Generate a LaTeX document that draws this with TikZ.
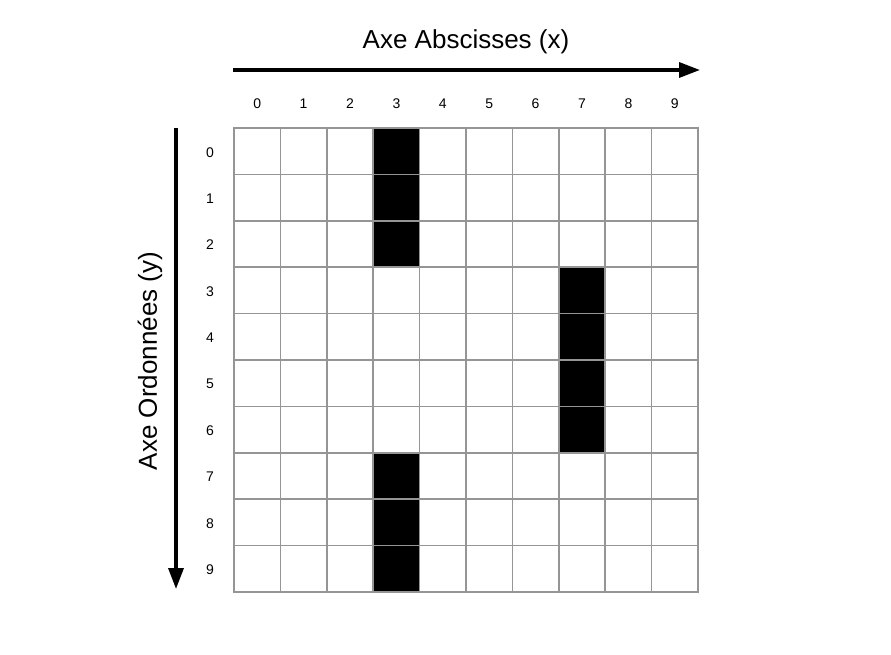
\documentclass[tikz,border=0pt]{standalone}
\usepackage{fontspec}
\setmainfont{Liberation Sans}
\usetikzlibrary{arrows.meta}
\definecolor{gridgray}{HTML}{959595}
\tikzset{
	cell/.style={draw=gridgray,line width=1.6pt,minimum size=46.4pt,inner sep=0pt,fill=white},
	full/.style={cell,fill=black},
	axe/.style={line width=3.4pt,-{Triangle[length=21pt,width=15pt]}},
	num/.style={font=\fontsize{14}{16}\selectfont},
	titre/.style={font=\fontsize{26}{30}\selectfont}
}
\begin{document}
\begin{tikzpicture}[x=1pt,y=-1pt]
	\useasboundingbox (0,0) rectangle (891,655);
	\node[titre] (tx) at (466,42) {Axe Abscisses (x)};
	\node[titre,rotate=90] (ty) at (150,361) {Axe Ordonnées (y)};
	\coordinate (x0) at (233,70);
	\coordinate (x1) at (700,70);
	\coordinate (y0) at (176,128);
	\coordinate (y1) at (176,589);
	\draw[axe] (x0) -- (x1);
	\draw[axe] (y0) -- (y1);
	\foreach \i in {0,...,9} {
		\node[num] (lx\i) at (257.2+46.4*\i,104) {\i};
		\node[num] (ly\i) at (210,152.2+46.4*\i) {\i};
	}
	\foreach \i in {0,...,9}
		\foreach \j in {0,...,9}
			\node[cell] (c\i\j) at (257.2+46.4*\i,151.2+46.4*\j) {};
	\foreach \i/\j in {3/0,3/1,3/2,7/3,7/4,7/5,7/6,3/7,3/8,3/9}
		\node[full] (b\i\j) at (257.2+46.4*\i,151.2+46.4*\j) {};
\end{tikzpicture}
\end{document}
